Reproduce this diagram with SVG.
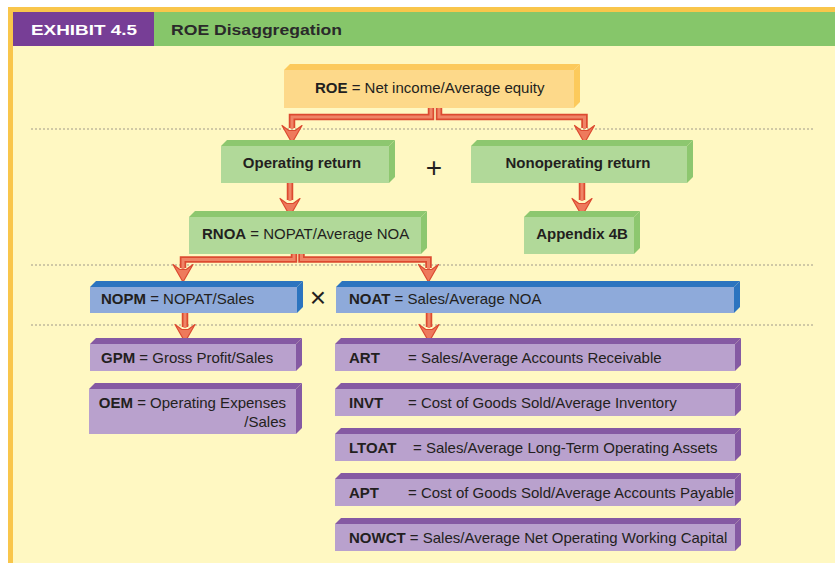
<svg xmlns="http://www.w3.org/2000/svg" width="835" height="563" viewBox="0 0 835 563">
<style>
text{font-family:"Liberation Sans",Arial,sans-serif;font-size:15px;fill:#231f20}
.b{font-weight:bold}
.dot{stroke:#a09a8a;stroke-width:1;stroke-dasharray:2,2;fill:none}
.stemo{fill:none;stroke:#dc4a30;stroke-width:6.5;stroke-linejoin:miter}
.stemi{fill:none;stroke:#ef8466;stroke-width:3;stroke-linejoin:miter}
.head{fill:#ee7a5c;stroke:#dc4a30;stroke-width:1.2;stroke-linejoin:round}
.yf{fill:#fdd98a}.yd{fill:#fcca5c}
.gf{fill:#b1d999}.gd{fill:#8dc76f}
.bf{fill:#8eaada}.bd{fill:#2c74bf}
.pf{fill:#b9a1cd}.pd{fill:#855aa3}
</style>
<defs>
<path id="ah" d="M-10,-17.5 L0,0 L10,-17.5 L3.2,-12.5 L-3.2,-12.5 Z"/>
</defs>
<rect width="835" height="563" fill="#ffffff"/>
<rect x="8" y="7" width="827" height="556" fill="#f9c64b"/>
<rect x="13" y="12" width="822" height="551" fill="#fff8c2"/>
<g id="header">
<rect x="13" y="12" width="141" height="34" fill="#773e96"/>
<rect x="154" y="12" width="681" height="34" fill="#86c66a"/>
<text x="31" y="35" class="b" style="fill:#ffffff;font-size:15.5px" textLength="106" lengthAdjust="spacingAndGlyphs">EXHIBIT 4.5</text>
<text x="171" y="35" class="b" style="fill:#2a2a2a;font-size:15.5px" textLength="171" lengthAdjust="spacingAndGlyphs">ROE Disaggregation</text>
</g>
<g id="dividers">
<line class="dot" x1="31" y1="129" x2="813" y2="129"/>
<line class="dot" x1="31" y1="265" x2="813" y2="265"/>
<line class="dot" x1="31" y1="325" x2="813" y2="325"/>
</g>
<g id="connectors">
<path class="stemo" d="M431,108 V117 H292 V128"/>
<path class="stemo" d="M439,108 V117 H584.5 V128"/>
<path class="stemo" d="M290,183 V200"/>
<path class="stemo" d="M582,183 V200"/>
<path class="stemo" d="M294,254 V259.5 H183 V268"/>
<path class="stemo" d="M301.5,254 V259.5 H428.5 V268"/>
<path class="stemo" d="M185,313 V327"/>
<path class="stemo" d="M429,313 V327"/>
<path class="stemi" d="M431,108 V117 H292 V129"/>
<path class="stemi" d="M439,108 V117 H584.5 V129"/>
<path class="stemi" d="M290,183 V201"/>
<path class="stemi" d="M582,183 V201"/>
<path class="stemi" d="M294,254 V259.5 H183 V269"/>
<path class="stemi" d="M301.5,254 V259.5 H428.5 V269"/>
<path class="stemi" d="M185,313 V328"/>
<path class="stemi" d="M429,313 V328"/>
<use href="#ah" class="head" transform="translate(292,143)"/>
<use href="#ah" class="head" transform="translate(584.5,143)"/>
<use href="#ah" class="head" transform="translate(290,216)"/>
<use href="#ah" class="head" transform="translate(582,216)"/>
<use href="#ah" class="head" transform="translate(183,282)"/>
<use href="#ah" class="head" transform="translate(428.5,282)"/>
<use href="#ah" class="head" transform="translate(185,342)"/>
<use href="#ah" class="head" transform="translate(429,342)"/>
</g>
<g id="roe">
<path class="yd" d="M284,70 L290,64 L580,64 L574,70 Z"/>
<path class="yd" d="M574,70 L580,64 L580,102 L574,108 Z"/>
<rect class="yf" x="284" y="70" width="290" height="38"/>
<text x="315" y="93"><tspan class="b">ROE</tspan> = Net income/Average equity</text>
</g>
<g id="operating">
<path class="gd" d="M221,146 L227,140 L395,140 L389,146 Z"/>
<path class="gd" d="M389,146 L395,140 L395,177 L389,183 Z"/>
<rect class="gf" x="221" y="146" width="168" height="37"/>
<text x="302" y="168" class="b" text-anchor="middle">Operating return</text>
</g>
<text id="plus" x="434" y="177" text-anchor="middle" style="font-size:28px">+</text>
<g id="nonoperating">
<path class="gd" d="M471,146 L477,140 L693,140 L687,146 Z"/>
<path class="gd" d="M687,146 L693,140 L693,177 L687,183 Z"/>
<rect class="gf" x="471" y="146" width="216" height="37"/>
<text x="578" y="168" class="b" text-anchor="middle">Nonoperating return</text>
</g>
<g id="rnoa">
<path class="gd" d="M189,217 L195,211 L427,211 L421,217 Z"/>
<path class="gd" d="M421,217 L427,211 L427,248 L421,254 Z"/>
<rect class="gf" x="189" y="217" width="232" height="37"/>
<text x="202" y="239"><tspan class="b">RNOA</tspan> = NOPAT/Average NOA</text>
</g>
<g id="appendix">
<path class="gd" d="M524,217 L530,211 L640,211 L634,217 Z"/>
<path class="gd" d="M634,217 L640,211 L640,248 L634,254 Z"/>
<rect class="gf" x="524" y="217" width="110" height="37"/>
<text x="582" y="239" class="b" text-anchor="middle">Appendix 4B</text>
</g>
<g id="nopm">
<path class="bd" d="M90,287 L96,281 L303,281 L297,287 Z"/>
<path class="bd" d="M297,287 L303,281 L303,307 L297,313 Z"/>
<rect class="bf" x="90" y="287" width="207" height="26"/>
<text x="101" y="304"><tspan class="b">NOPM</tspan> = NOPAT/Sales</text>
</g>
<text id="times" x="318" y="307" text-anchor="middle" style="font-size:28px">×</text>
<g id="noat">
<path class="bd" d="M336,287 L342,281 L740,281 L734,287 Z"/>
<path class="bd" d="M734,287 L740,281 L740,307 L734,313 Z"/>
<rect class="bf" x="336" y="287" width="398" height="26"/>
<text x="349" y="304"><tspan class="b">NOAT</tspan> = Sales/Average NOA</text>
</g>
<g id="gpm">
<path class="pd" d="M90,344 L96,338 L302,338 L296,344 Z"/>
<path class="pd" d="M296,344 L302,338 L302,365 L296,371 Z"/>
<rect class="pf" x="90" y="344" width="206" height="27"/>
<text x="101" y="363"><tspan class="b">GPM</tspan> = Gross Profit/Sales</text>
</g>
<g id="oem">
<path class="pd" d="M89,389 L95,383 L302,383 L296,389 Z"/>
<path class="pd" d="M296,389 L302,383 L302,428 L296,434 Z"/>
<rect class="pf" x="89" y="389" width="207" height="45"/>
<text x="286" y="408" text-anchor="end"><tspan class="b">OEM</tspan> = Operating Expenses</text>
<text x="286" y="427" text-anchor="end">/Sales</text>
</g>
<g id="art">
<path class="pd" d="M335,344 L341,338 L741,338 L735,344 Z"/>
<path class="pd" d="M735,344 L741,338 L741,365 L735,371 Z"/>
<rect class="pf" x="335" y="344" width="400" height="27"/>
<text x="349" y="363" class="b">ART</text>
<text x="408" y="363">= Sales/Average Accounts Receivable</text>
</g>
<g id="invt">
<path class="pd" d="M335,389 L341,383 L741,383 L735,389 Z"/>
<path class="pd" d="M735,389 L741,383 L741,410 L735,416 Z"/>
<rect class="pf" x="335" y="389" width="400" height="27"/>
<text x="349" y="408" class="b">INVT</text>
<text x="408" y="408">= Cost of Goods Sold/Average Inventory</text>
</g>
<g id="ltoat">
<path class="pd" d="M335,434 L341,428 L741,428 L735,434 Z"/>
<path class="pd" d="M735,434 L741,428 L741,455 L735,461 Z"/>
<rect class="pf" x="335" y="434" width="400" height="27"/>
<text x="349" y="453" class="b">LTOAT</text>
<text x="413" y="453">= Sales/Average Long-Term Operating Assets</text>
</g>
<g id="apt">
<path class="pd" d="M335,479 L341,473 L741,473 L735,479 Z"/>
<path class="pd" d="M735,479 L741,473 L741,500 L735,506 Z"/>
<rect class="pf" x="335" y="479" width="400" height="27"/>
<text x="349" y="498" class="b">APT</text>
<text x="408" y="498">= Cost of Goods Sold/Average Accounts Payable</text>
</g>
<g id="nowct">
<path class="pd" d="M335,524 L341,518 L741,518 L735,524 Z"/>
<path class="pd" d="M735,524 L741,518 L741,545 L735,551 Z"/>
<rect class="pf" x="335" y="524" width="400" height="27"/>
<text x="349" y="543"><tspan class="b">NOWCT</tspan> = Sales/Average Net Operating Working Capital</text>
</g>
</svg>
